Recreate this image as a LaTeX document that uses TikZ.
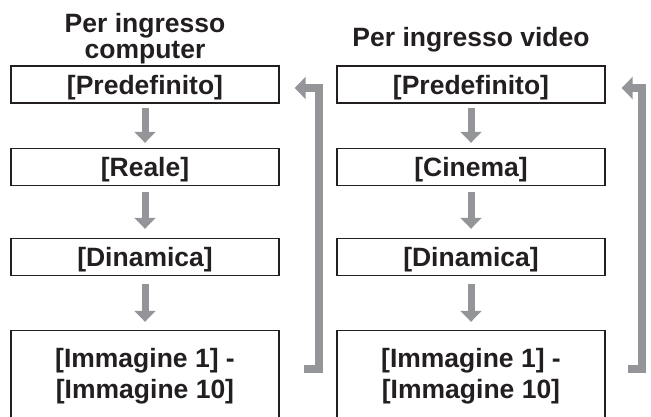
\documentclass[tikz,border=0pt]{standalone}
\usepackage{fontspec}
\setmainfont{Liberation Sans}
\usetikzlibrary{arrows.meta}
\definecolor{ink}{HTML}{231F20}
\definecolor{flowgray}{HTML}{939598}
\begin{document}
\begin{tikzpicture}[x=1pt,y=-1pt,
  every node/.style={font=\fontsize{26.5}{30}\selectfont\bfseries, text=ink},
  stepbox/.style={draw=ink, line width=1.4pt, minimum width=268pt, minimum height=37pt,
    inner sep=0pt, text height=19pt, text depth=0pt},
  bigbox/.style={draw=ink, line width=1.4pt, minimum width=268pt, minimum height=91pt,
    inner sep=0pt, align=center},
  title/.style={anchor=base, inner sep=0pt},
  flow/.style={draw=flowgray, line width=7pt, -{Triangle[width=21pt,length=11pt]}},
  back/.style={draw=flowgray, line width=8pt, line join=miter, -{Triangle[width=22pt,length=11pt]}}
]
\useasboundingbox (0,0) rectangle (651,416);

% titles
\node[title] (t1a) at (145,32) {Per ingresso};
\node[title] (t1b) at (145,58) {computer};
\node[title] (t2) at (471,46) {Per ingresso video};

% left column
\node[stepbox] (p1) at (145,84.5) {[Predefinito]};
\node[stepbox] (p2) at (145,167) {[Reale]};
\node[stepbox] (p3) at (145,257) {[Dinamica]};
\node[bigbox] (p4) at (145,376) {[Immagine 1] -\\[1pt][Immagine 10]};

% right column
\node[stepbox] (q1) at (471,84.5) {[Predefinito]};
\node[stepbox] (q2) at (471,167) {[Cinema]};
\node[stepbox] (q3) at (471,257) {[Dinamica]};
\node[bigbox] (q4) at (471,376) {[Immagine 1] -\\[1pt][Immagine 10]};

% down arrows
\draw[flow] ([yshift=-4pt]p1.south) -- ([yshift=5pt]p2.north);
\draw[flow] ([yshift=-6pt]p2.south) -- ([yshift=9pt]p3.north);
\draw[flow] ([yshift=-8pt]p3.south) -- ([yshift=8pt]p4.north);
\draw[flow] ([yshift=-4pt]q1.south) -- ([yshift=5pt]q2.north);
\draw[flow] ([yshift=-6pt]q2.south) -- ([yshift=9pt]q3.north);
\draw[flow] ([yshift=-8pt]q3.south) -- ([yshift=8pt]q4.north);

% feedback arrows
\coordinate (b1) at (304,369);
\coordinate (b2) at (628,369);
\draw[back] (b1) -- ++(15,0) |- ([xshift=15pt,yshift=-3.5pt]p1.east);
\draw[back] (b2) -- ++(14,0) |- ([xshift=16pt,yshift=-3.5pt]q1.east);
\end{tikzpicture}
\end{document}
